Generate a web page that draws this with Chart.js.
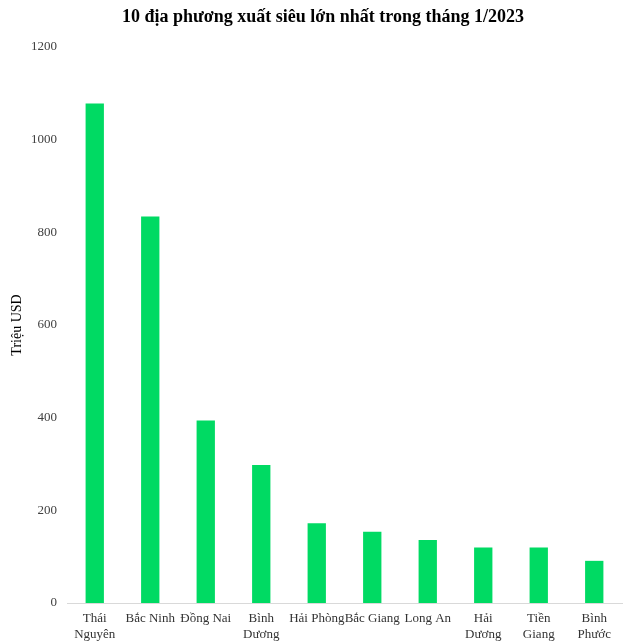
<!DOCTYPE html>
<html>
<head>
<meta charset="utf-8">
<script src="https://cdn.jsdelivr.net/npm/chart.js@4"></script>
<style>
html,body{margin:0;padding:0;background:#fff;}
#wrap{width:630px;height:641px;position:relative;}
</style>
</head>
<body>
<div id="wrap"><canvas id="c" width="630" height="641"></canvas></div>
<script>
const categories = [["Thái","Nguyên"],"Bắc Ninh","Đồng Nai",["Bình","Dương"],"Hải Phòng","Bắc Giang","Long An",["Hải","Dương"],["Tiền","Giang"],["Bình","Phước"]];
const values = [1078, 834, 394, 298, 172, 154, 136, 120, 120, 91];
const yTicks = [0, 200, 400, 600, 800, 1000, 1200];
const titleText = "10 địa phương xuất siêu lớn nhất trong tháng 1/2023";
const yTitle = "Triệu USD";

const titlePlugin = {
  id: 'customTitle',
  afterDraw(chart) {
    const ctx = chart.ctx;
    ctx.save();
    ctx.fillStyle = '#000';
    ctx.font = 'bold 18px "Liberation Serif"';
    ctx.textAlign = 'center';
    ctx.textBaseline = 'middle';
    ctx.fillText(titleText, 323, 17);
    ctx.restore();
  }
};

new Chart(document.getElementById('c'), {
  type: 'bar',
  data: {
    labels: categories,
    datasets: [{
      data: values,
      backgroundColor: '#00DA63',
      categoryPercentage: 1,
      barPercentage: 0.33
    }]
  },
  plugins: [titlePlugin],
  options: {
    responsive: false,
    animation: false,
    layout: { padding: { left: 0, right: 8, top: 47, bottom: 0 } },
    plugins: {
      legend: { display: false },
      tooltip: { enabled: false },
      title: { display: false }
    },
    scales: {
      x: {
        afterFit: (s) => { s.height = 38; },
        grid: { display: false, drawTicks: false },
        border: { display: true, color: '#d9d9d9', width: 1 },
        ticks: {
          color: '#333333',
          font: { family: 'Liberation Serif', size: 13, lineHeight: 1.25 },
          maxRotation: 0, minRotation: 0, autoSkip: false,
          padding: 7
        }
      },
      y: {
        min: 0, max: 1200,
        afterBuildTicks: (axis) => { axis.ticks = yTicks.map(v => ({ value: v })); },
        afterFit: (s) => { s.width = 67; },
        grid: { display: false, drawTicks: false },
        border: { display: false },
        ticks: {
          color: '#404040',
          font: { family: 'Liberation Serif', size: 13 },
          padding: 10,
          callback: (v) => String(v)
        },
        title: {
          display: true,
          text: yTitle,
          color: '#000',
          font: { family: 'Liberation Serif', size: 14, lineHeight: 1 },
          padding: { top: 10, bottom: 0 }
        }
      }
    }
  }
});
</script>
</body>
</html>
